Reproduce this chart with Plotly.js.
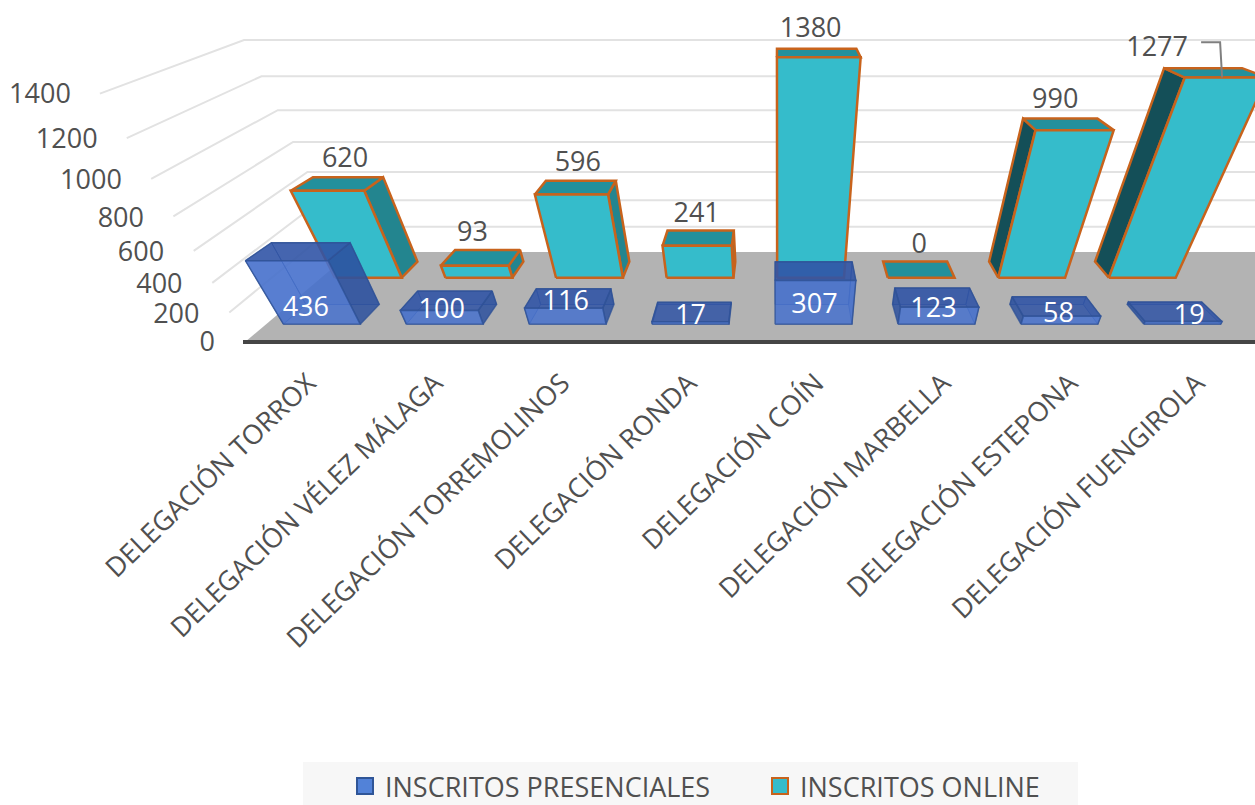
<!DOCTYPE html>
<html><head><meta charset="utf-8">
<script src="https://cdn.plot.ly/plotly-3.0.1.min.js"></script>
<style>html,body{margin:0;padding:0;background:#fff}#c{width:1255px;height:805px}</style>
</head><body><div id="c"></div>
<script>
// ---------- data ----------
const categories = ["DELEGACIÓN TORROX","DELEGACIÓN VÉLEZ MÁLAGA","DELEGACIÓN TORREMOLINOS","DELEGACIÓN RONDA","DELEGACIÓN COÍN","DELEGACIÓN MARBELLA","DELEGACIÓN ESTEPONA","DELEGACIÓN FUENGIROLA"];
const presenciales = [436,100,116,17,307,123,58,19];
const online = [620,93,596,241,1380,0,990,1277];
const axisTicks = [0,200,400,600,800,1000,1200,1400];
const seriesNames = ["INSCRITOS PRESENCIALES","INSCRITOS ONLINE"];

// ---------- label placement nudges (pixels) ----------
const frontLabelLift = [15,13,21,7,18,14,9,7];
const frontLabelShift = [-16,-3,-2,0,1,-3,-1,7];
const backLabelShift = [-3,-15,-3,-4,-6,4,-5,-46];

// ---------- 3D view model ----------
const NADIR_X = 778, NADIR_Y = 1150, K0 = 808, KZ = 314.5, DEPTH_W = 0.25, H0 = 5865;
const X_LEFT = -533, X_WALL = -540, X_RIGHT = 700;
const ROW_FRONT = {first:-475, step:128, width:80, z:[0.165, 0.364]};
const ROW_BACK = {first:-478, step:129, width:78, z:[0.667, 0.87]};
function proj(X, Z, Y) {
  const w = 1 + DEPTH_W * Z - Y / H0;
  return [NADIR_X + X / w, NADIR_Y - (K0 + KZ * Z) / w];
}
const INK = "#505050", FONT = "Open Sans, Noto Sans, sans-serif";
const traces = [];
function poly(pts, fill, line, lw) {
  const p = pts.concat([pts[0]]);
  traces.push({x: p.map(a => a[0]), y: p.map(a => a[1]), type: "scatter", mode: "lines",
    fill: "toself", fillcolor: fill, line: {color: line, width: lw, simplify: false},
    hoverinfo: "skip", showlegend: false});
}
function seg(pts, color, width) {
  traces.push({x: pts.map(a => a[0]), y: pts.map(a => a[1]), type: "scatter", mode: "lines",
    line: {color, width, simplify: false}, hoverinfo: "skip", showlegend: false});
}
// walls
axisTicks.forEach(v => {
  if (v === 0) return;
  const t = v / 1400;
  const end = proj(X_LEFT, 0, v);
  end[0] += 22 * t; end[1] += 7 * t - 2;
  seg([end, proj(X_WALL, 1, v), proj(X_RIGHT, 1, v)], "#E2E2E2", 2);
});
// floor
poly([proj(X_LEFT,0,0), proj(X_RIGHT,0,0), proj(X_RIGHT,1,0), proj(X_LEFT,1,0)], "#B3B3B3", "#B3B3B3", 0);
// bars
function box(i, v, row, st) {
  const xc = row.first + row.step * i, a = xc - row.width / 2, b = xc + row.width / 2, z0 = row.z[0], z1 = row.z[1];
  const P = (x, z, y) => proj(x, z, y);
  const L = [P(a,z0,0),P(a,z1,0),P(a,z1,v),P(a,z0,v)], R = [P(b,z0,0),P(b,z1,0),P(b,z1,v),P(b,z0,v)];
  const top = [P(a,z0,v),P(b,z0,v),P(b,z1,v),P(a,z1,v)], front = [P(a,z0,0),P(b,z0,0),P(b,z0,v),P(a,z0,v)];
  const back = [P(a,z1,0),P(b,z1,0),P(b,z1,v),P(a,z1,v)];
  if (st.glass) {
    poly(back, st.hidden, st.line, 1);
    if (b < 0) poly(L, st.hidden, st.line, 1); else poly(R, st.hidden, st.line, 1);
  }
  if (v > 0) {
    if (b < 0) poly(R, st.sideR, st.line, st.lw);
    else if (a > 0) poly(L, st.sideL, st.line, st.lw);
  }
  poly(top, st.top, st.line, st.lw);
  if (v > 0) poly(front, st.front, st.line, st.lw);
}
const tealStyle = {front:"#35BCCB", top:"#23909C", sideR:"#23858F", sideL:"#144F58", line:"#C8631C", lw:2.5};
const blueStyle = {glass:true, hidden:"rgba(70,105,190,0.35)", front:"rgba(70,113,205,0.85)", top:"rgba(48,84,165,0.85)", sideR:"rgba(44,80,158,0.85)", sideL:"rgba(44,80,158,0.85)", line:"rgba(47,82,150,0.75)", lw:1.5};
online.forEach((v,i) => box(i, v, ROW_BACK, tealStyle));
presenciales.forEach((v,i) => box(i, v, ROW_FRONT, blueStyle));
// floor front edge
seg([[proj(X_LEFT,0,0)[0]-2, proj(X_LEFT,0,0)[1]], [proj(X_RIGHT,0,0)[0], proj(X_RIGHT,0,0)[1]]], "#454545", 4);

// leader line for the last online bar
{
  const i = online.length - 1, xc = ROW_BACK.first + ROW_BACK.step * i;
  const t = proj(xc, ROW_BACK.z[1], online[i]), f = proj(xc + ROW_BACK.width * 0.1, ROW_BACK.z[0], online[i]);
  seg([[t[0] + backLabelShift[i] + 44, t[1] - 26], [t[0] + backLabelShift[i] + 63, t[1] - 26], [t[0] + backLabelShift[i] + 65, f[1]]], "#7F7F7F", 2);
}
// axis value labels
traces.push({x: axisTicks.map(v => proj(X_LEFT,0,v)[0] - 30 + 23 * v / 1400), y: axisTicks.map(v => proj(X_LEFT,0,v)[1] + 2 + 6 * v / 1400),
  text: axisTicks.map(String), type: "scatter", mode: "text", textposition: "middle left",
  textfont: {family: FONT, size: 27, color: INK}, hoverinfo: "skip", showlegend: false, cliponaxis: false});
// data labels
traces.push({x: online.map((v,i) => proj(ROW_BACK.first + ROW_BACK.step*i, ROW_BACK.z[1], v)[0] + backLabelShift[i]),
  y: online.map((v,i) => proj(ROW_BACK.first + ROW_BACK.step*i, ROW_BACK.z[1], v)[1] - 15 - 4 * v / 1380),
  text: online.map(String), type: "scatter", mode: "text", textposition: "middle center",
  textfont: {family: FONT, size: 27, color: INK}, hoverinfo: "skip", showlegend: false, cliponaxis: false});
traces.push({x: presenciales.map((v,i) => proj(ROW_FRONT.first + ROW_FRONT.step*i, ROW_FRONT.z[0], 0)[0] + frontLabelShift[i]),
  y: presenciales.map((v,i) => proj(ROW_FRONT.first + ROW_FRONT.step*i, ROW_FRONT.z[0], 0)[1] - frontLabelLift[i]),
  text: presenciales.map(String), type: "scatter", mode: "text", textposition: "middle center",
  textfont: {family: FONT, size: 27, color: "#FFFFFF"}, hoverinfo: "skip", showlegend: false, cliponaxis: false});
// legend entries
traces.push({x:[-100], y:[-100], name: seriesNames[0], type:"scatter", mode:"markers",
  marker:{symbol:"square", size:20, color:"#5282D8", line:{color:"#2F5597", width:2}}, hoverinfo:"skip"});
traces.push({x:[-100], y:[-100], name: seriesNames[1], type:"scatter", mode:"markers",
  marker:{symbol:"square", size:20, color:"#35BCCB", line:{color:"#C8631C", width:2}}, hoverinfo:"skip"});

const tickX = categories.map((c,i) => 308 + 127 * i);
const layout = {
  width: 1255, height: 805, margin: {l:0, r:0, t:0, b:0, autoexpand:false},
  paper_bgcolor: "#fff", plot_bgcolor: "#fff",
  xaxis: {range:[0,1255], showgrid:false, zeroline:false, showline:false, fixedrange:true,
    tickmode:"array", tickvals: tickX, ticktext: categories, tickangle:-44, ticks:"", 
    tickfont:{family:FONT, size:27, color:INK}, anchor:"free", position: 1 - 361/805, automargin:false},
  yaxis: {range:[805,0], showgrid:false, zeroline:false, showline:false, showticklabels:false, fixedrange:true, automargin:false},
  showlegend: true,
  legend: {orientation:"h", x:345/1255, y:1-762/805, xanchor:"left", yanchor:"top", bgcolor:"rgba(0,0,0,0)",
    font:{family:FONT, size:27, color:INK}, entrywidthmode:"pixels", entrywidth:370, itemclick:false, itemdoubleclick:false, traceorder:"normal", tracegroupgap:0},
  shapes: [{type:"rect", xref:"paper", yref:"paper", x0:303/1255, x1:1078/1255, y0:0, y1:1-762/805, fillcolor:"#F7F7F7", line:{width:0}, layer:"below"}]
};
Plotly.newPlot("c", traces, layout, {displayModeBar:false, staticPlot:true});
</script></body></html>
